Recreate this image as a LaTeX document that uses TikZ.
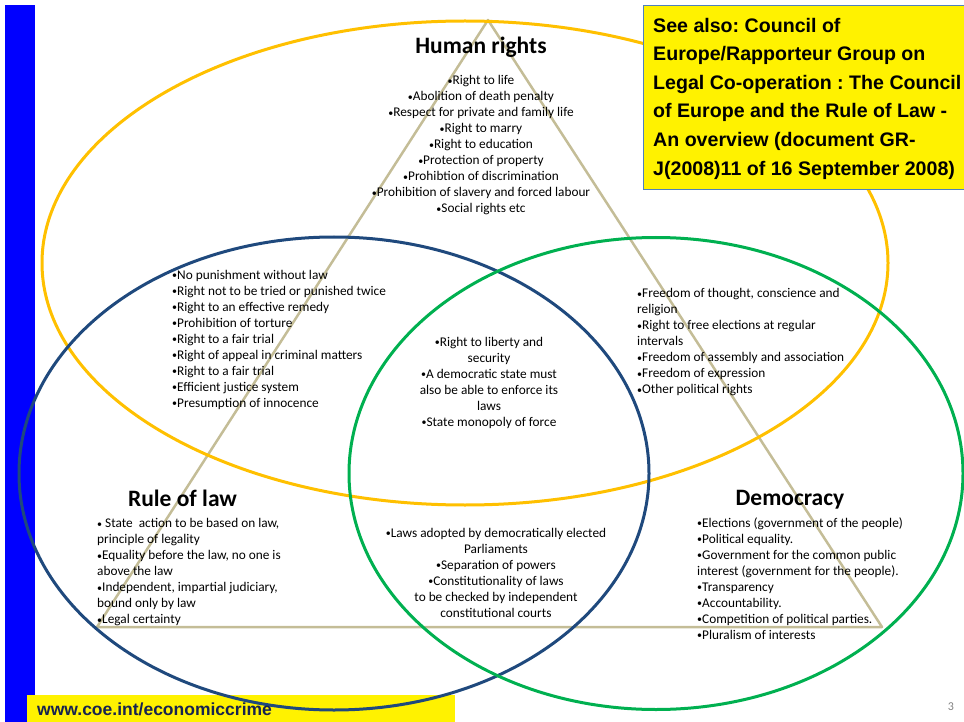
\documentclass[tikz,border=0pt]{standalone}
\usepackage{fontspec}
\setmainfont{Carlito}
\newfontfamily\arialfont{Liberation Sans}
\usepackage{xcolor}
\usepackage{tikz}
\usetikzlibrary{shapes}

\definecolor{hrgold}{RGB}{255,192,0}
\definecolor{rlblue}{RGB}{31,73,125}
\definecolor{dmgreen}{RGB}{0,176,80}
\definecolor{tritan}{RGB}{196,189,151}
\definecolor{barblue}{RGB}{0,0,255}
\definecolor{boxedge}{RGB}{79,129,189}
\definecolor{urlnavy}{RGB}{23,35,80}

% small bullet as in the slide
\newcommand{\blt}{\raisebox{0.8pt}{\fontsize{10}{10}\selectfont•}}

\begin{document}
\frenchspacing
\begin{tikzpicture}[x=1pt,y=1pt,yscale=-1,xscale=1,
  bodytxt/.style={inner sep=0pt,font=\fontsize{13.3}{16}\selectfont},
  headtxt/.style={inner sep=0pt,font=\fontsize{23.5}{28}\selectfont\bfseries},
  ring/.style={line width=3pt}]
\useasboundingbox (0,0) rectangle (964,722); %page of 964 x 722

%Shape: Rectangle [id:left bar]
\fill [barblue] (5,5) rectangle (35,722) ;
%Shape: Rectangle [id:footer]
\fill [yellow] (27,695) rectangle (455,722) ;

%Shape: Triangle [id:three pillars]
\coordinate (apex) at (488,20) ;
\coordinate (rlcorner) at (97,627) ;
\coordinate (dmcorner) at (882,627) ;
\draw [tritan, line width=2.5pt, line join=round] (apex) -- (rlcorner) -- (dmcorner) -- cycle ;

%Shape: Ellipse [id:human rights]
\draw [ring, hrgold] (465,263) ellipse (423 and 242) ;
%Shape: Ellipse [id:rule of law]
\draw [ring, rlblue] (334,473.5) ellipse (315 and 236.5) ;
%Shape: Ellipse [id:democracy]
\draw [ring, dmgreen] (656,473.5) ellipse (307 and 236) ;

%Shape: Rectangle [id:see also box]
\draw [boxedge, fill=yellow, line width=0.8pt] (643,5) rectangle (966,189) ;

% Text Node
\node [headtxt] (hrhead) at (481,47) {Human rights};
% Text Node
\node [bodytxt, align=center] (hrlist) at (481,145.5) {\blt Right to life\\\blt Abolition of death penalty\\\blt Respect for private and family life\\\blt Right to marry\\\blt Right to education\\\blt Protection of property\\\blt Prohibtion of discrimination\\\blt Prohibition of slavery and forced labour\\\blt Social rights etc};
% Text Node
\node [bodytxt, align=left, anchor=west] (hrrllist) at (172,339.5) {\blt No punishment without law\\\blt Right not to be tried or punished twice\\\blt Right to an effective remedy\\\blt Prohibition of torture\\\blt Right to a fair trial\\\blt Right of appeal in criminal matters\\\blt Right to a fair trial\\\blt Efficient justice system\\\blt Presumption of innocence};
% Text Node
\node [bodytxt, align=center] (alllist) at (489,382.5) {\blt Right to liberty and\\security\\\blt A democratic state must\\also be able to enforce its\\laws\\\blt State monopoly of force};
% Text Node
\node [bodytxt, align=left, anchor=west] (hrdmlist) at (637,342.5) {\blt Freedom of thought, conscience and\\religion\\\blt Right to free elections at regular\\intervals\\\blt Freedom of assembly and association\\\blt Freedom of expression\\\blt Other political rights};
% Text Node
\node [headtxt] (rlhead) at (182.5,498) {Rule of law};
% Text Node
\node [bodytxt, align=left, anchor=west] (rllist) at (97,572.5) {\blt\ State\ \ action to be based on law,\\principle of legality\\\blt Equality before the law, no one is\\above the law\\\blt Independent, impartial judiciary,\\bound only by law\\\blt Legal certainty};
% Text Node
\node [bodytxt, align=center] (rldmlist) at (496,572.5) {\blt Laws adopted by democratically elected\\Parliaments\\\blt Separation of powers\\\blt Constitutionality of laws\\to be checked by independent\\constitutional courts};
% Text Node
\node [headtxt] (dmhead) at (790,500) {Democracy};
% Text Node
\node [bodytxt, align=left, anchor=west] (dmlist) at (697,578.5) {\blt Elections (government of the people)\\\blt Political equality.\\\blt Government for the common public\\interest (government for the people).\\\blt Transparency\\\blt Accountability.\\\blt Competition of political parties.\\\blt Pluralism of interests};

% Text Node
\node [inner sep=0pt, align=left, anchor=west, font=\arialfont\bfseries\fontsize{19.6}{28.6}\selectfont] (seealso) at (653,98.5) {See also: Council of\\Europe/Rapporteur Group on\\Legal Co-operation : The Council\\of Europe and the Rule of Law -\\An overview (document GR-\\J(2008)11 of 16 September 2008)};
% Text Node
\node [inner sep=0pt, anchor=west, text=urlnavy, font=\arialfont\bfseries\fontsize{17.5}{20}\selectfont] (url) at (37,709) {www.coe.int/economiccrime};
% Text Node
\node [inner sep=0pt, text=gray, font=\fontsize{12}{14}\selectfont] (pagenum) at (951,707) {3};

\end{tikzpicture}
\end{document}
